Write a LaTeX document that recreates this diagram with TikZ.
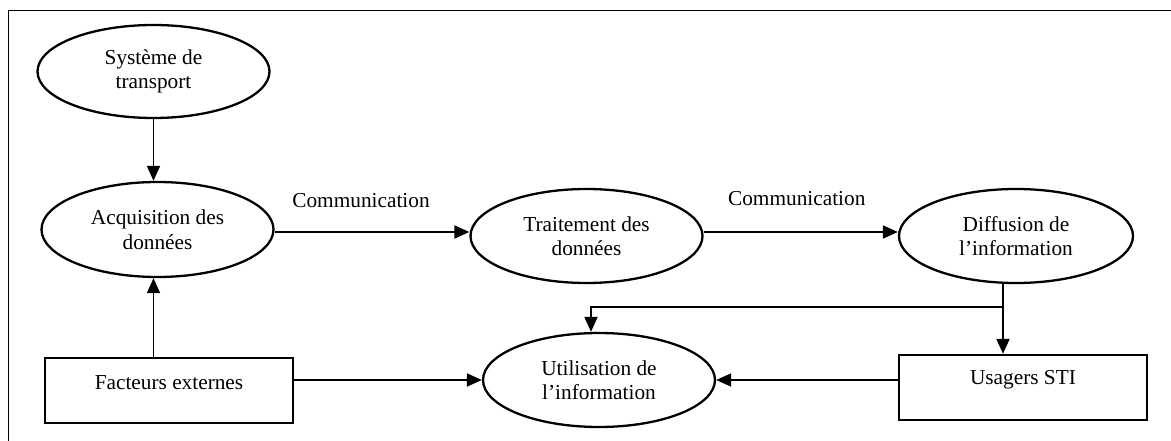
\documentclass[tikz,border=0pt]{standalone}
\usepackage{fontspec}
\setmainfont{Liberation Serif}
\usetikzlibrary{shapes.geometric,arrows.meta}
\begin{document}
\begin{tikzpicture}[x=1pt,y=-1pt,
  every node/.style={font=\fontsize{21.3}{24.5}\selectfont},
  ell/.style={draw,ellipse,line width=2.3pt,inner sep=0pt,align=center,minimum width=232pt,minimum height=93pt},
  boxnode/.style={draw,rectangle,line width=2.3pt,inner sep=0pt,minimum width=248pt,minimum height=65pt},
  arr/.style={line width=1.8pt,-{Triangle[length=15pt,width=13pt]}},
  lbl/.style={inner sep=0pt}]
\useasboundingbox (0,0) rectangle (1171,441);
\draw[line width=1.3pt] (8.5,450) -- (8.5,10.5) -- (1180,10.5);
\node[ell] (sys) at (153.5,71.5) {Système de\\transport};
\node[ell,minimum height=95pt] (acq) at (157.5,229.5) {Acquisition des\\données};
\node[ell,minimum height=94pt] (trt) at (586.5,236) {Traitement des\\données};
\node[ell,minimum width=234pt,minimum height=94pt] (dif) at (1016,236) {Diffusion de\\l’information};
\node[ell,minimum height=94pt] (uti) at (599,380) {Utilisation de\\l’information};
\node[boxnode] (fac) at (169,390.5) {\raisebox{7.5pt}[\height][\depth]{Facteurs externes}};
\node[boxnode] (usa) at (1023,387.5) {\raisebox{7.5pt}[\height][\depth]{Usagers STI}};
\coordinate (j) at ([xshift=-13pt]dif.south |- 0,307);
\draw[arr] (sys.south) -- (sys.south |- acq.north);
\draw[arr] (fac.north -| sys.south) -- (acq.south -| sys.south);
\draw[arr] ([yshift=-2.5pt]acq.east) -- node[lbl,above=23pt,xshift=-11pt] {Communication} ([yshift=-2.5pt]acq.east -| trt.west);
\draw[arr] ([yshift=4pt]trt.east) -- node[lbl,above=25pt,xshift=-4pt] {Communication} ([yshift=4pt]trt.east -| dif.west);
\draw[arr] ([xshift=-13pt]dif.south) -- ([xshift=-13pt]dif.south |- usa.north);
\draw[arr] (j) -| ([xshift=-8pt]uti.north);
\draw[arr] (uti.west -| fac.east) -- (uti.west);
\draw[arr] (uti.east -| usa.west) -- (uti.east);
\end{tikzpicture}
\end{document}
